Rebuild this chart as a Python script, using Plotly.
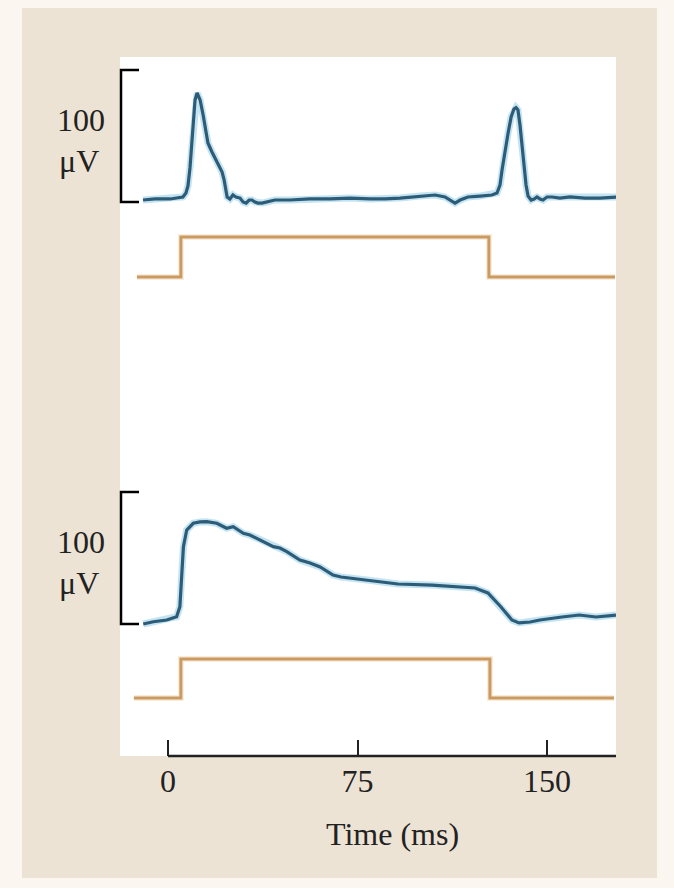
import plotly.graph_objects as go

# ---------------- data ----------------
# Top record: two brief spikes (onset and offset response), time in ms, amplitude in microvolts
TOP_T = [-9.9, -5.1, 0.8, 4.7, 5.9, 7.1, 7.9, 8.7, 9.5, 10.3, 10.7, 11.5, 12.7, 13.9, 15.0,
         15.8, 17.4, 19.0, 20.2, 21.4, 22.2, 23.0, 23.4, 24.5, 25.7, 26.9, 28.5, 29.7, 30.9,
         32.1, 33.2, 34.4, 35.6, 37.2, 39.2, 42.3, 48.3, 56.2, 64.1, 72.0, 79.9, 85.9, 91.8,
         99.7, 105.7, 109.6, 112.0, 113.6, 115.6, 118.7, 123.5, 128.2, 130.2, 131.4, 132.2,
         133.4, 134.6, 135.8, 136.9, 137.7, 138.5, 139.3, 140.1, 140.9, 141.7, 142.5, 143.7,
         144.9, 146.0, 147.2, 148.4, 150.0, 152.0, 155.1, 159.1, 165.0, 171.0, 177.7]
TOP_UV = [1.5, 2.3, 2.3, 3.0, 3.8, 6.8, 12.1, 25.8, 44.7, 65.9, 77.3, 82.6, 77.3, 65.9, 53.0,
          44.7, 37.9, 31.8, 27.3, 22.7, 16.7, 9.1, 3.8, 2.3, 5.3, 3.8, 3.0, 0.0, -0.8,
          1.5, 1.5, 0.0, -0.8, -0.8, 0.0, 1.5, 1.5, 2.3, 2.3, 3.0, 2.3, 2.3, 3.0,
          4.5, 5.3, 3.8, 0.8, -0.8, 1.5, 3.8, 4.5, 5.3, 6.8, 12.9, 24.2,
          39.4, 52.3, 64.4, 70.5, 71.5, 69.7, 58.3, 43.2, 28.0, 12.9, 4.5, 1.5,
          2.3, 3.8, 2.3, 1.5, 3.8, 3.8, 3.0, 3.8, 3.0, 3.0, 3.8]

# Bottom record: sustained response, time in ms, amplitude in microvolts
BOT_T = [-9.8, -5.8, -0.5, 3.4, 4.7, 5.4, 6.1, 7.4, 10.0, 12.7, 15.3, 19.3, 23.2, 25.8,
         29.8, 32.4, 35.1, 38.4, 41.7, 44.3, 47.0, 52.2, 56.2, 60.2, 65.3, 68.5, 78.8,
         91.0, 104.5, 114.8, 121.5, 126.6, 131.8, 136.1, 138.9, 143.3, 147.2, 155.9,
         162.7, 169.4, 177.3]
BOT_UV = [0.0, 1.7, 3.0, 5.5, 13.1, 33.3, 58.6, 71.2, 76.3, 77.3, 77.5, 76.3, 72.5, 73.7,
          68.7, 67.4, 64.9, 62.1, 58.6, 57.6, 54.8, 48.5, 46.2, 43.2, 37.1, 35.6, 33.3,
          30.3, 29.5, 28.0, 27.3, 23.5, 12.9, 3.0, 0.8, 1.5, 3.0, 5.3,
          6.8, 5.3, 6.8]

# Stimulus (step) timing in ms, level 0 = off, 1 = on
TOP_STIM_T = [-12.3, 5.1, 127.0, 176.9]
BOT_STIM_T = [-13.5, 5.1, 127.4, 176.5]
STIM_LEVEL = [0, 1, 0, 0]

X_TICKS = [0, 75, 150]
X_TICK_TEXT = ["0", "75", "150"]
X_TITLE = "Time (ms)"
SCALE_UV = 100
SCALE_TEXT = ["100", "\u03bcV"]

X_RANGE = [-19.0, 177.3]

# ---------------- styling ----------------
TRACE_COL = "#2d5c78"
HALO_COL = "rgba(150,205,232,0.55)"
STIM_COL = "#c99a62"
STIM_HALO = "rgba(240,200,150,0.35)"
INK = "#222222"
FONT = "Liberation Serif, Times New Roman, serif"
BEIGE = "#ede3d4"
CREAM = "#fbf7f0"

# pixel geometry helpers (plot area: 120..616 x, 57..756 y)
W, H = 674, 888
ML, MR, MT, MB = 120, 58, 57, 132
PH = H - MT - MB


def yrange(zero_px, px_per_unit):
    lo = -(H - MB - zero_px) / px_per_unit
    hi = (zero_px - MT) / px_per_unit
    return [lo, hi]


def px_x(px):
    return (px - ML) / (W - ML - MR)


def px_y(py):
    return (H - MB - py) / PH


fig = go.Figure()

# top response (halo + line)
for col, wd in [(HALO_COL, 7), (TRACE_COL, 3.2)]:
    fig.add_trace(go.Scatter(x=TOP_T, y=TOP_UV, xaxis="x", yaxis="y", mode="lines",
                             line=dict(color=col, width=wd), hoverinfo="skip", showlegend=False))
# bottom response
for col, wd in [(HALO_COL, 7), (TRACE_COL, 3.2)]:
    fig.add_trace(go.Scatter(x=BOT_T, y=BOT_UV, xaxis="x", yaxis="y2", mode="lines",
                             line=dict(color=col, width=wd), hoverinfo="skip", showlegend=False))
# stimulus steps
for col, wd in [(STIM_HALO, 6), (STIM_COL, 3)]:
    fig.add_trace(go.Scatter(x=TOP_STIM_T, y=STIM_LEVEL, xaxis="x", yaxis="y3", mode="lines",
                             line=dict(color=col, width=wd, shape="hv"), hoverinfo="skip",
                             showlegend=False))
    fig.add_trace(go.Scatter(x=BOT_STIM_T, y=STIM_LEVEL, xaxis="x", yaxis="y4", mode="lines",
                             line=dict(color=col, width=wd, shape="hv"), hoverinfo="skip",
                             showlegend=False))

hidden = dict(visible=False, fixedrange=True)
fig.update_layout(
    width=W, height=H, autosize=False,
    margin=dict(l=ML, r=MR, t=MT, b=MB, pad=0),
    paper_bgcolor=CREAM, plot_bgcolor="white",
    showlegend=False,
    xaxis=dict(range=X_RANGE, showgrid=False, zeroline=False, showline=False,
               ticks="inside", ticklen=16, tickwidth=2, tickcolor=INK,
               tickvals=X_TICKS, ticktext=X_TICK_TEXT, fixedrange=True,
               tickfont=dict(family=FONT, size=32, color=INK), ticklabelstandoff=3),
    yaxis=dict(range=yrange(202, 1.32), **hidden),
    yaxis2=dict(range=yrange(624, 1.32), overlaying="y", **hidden),
    yaxis3=dict(range=yrange(277, 40), overlaying="y", **hidden),
    yaxis4=dict(range=yrange(698, 39), overlaying="y", **hidden),
)

shapes = [
    # beige card and white panel behind everything
    dict(type="rect", xref="paper", yref="paper", x0=px_x(22), x1=px_x(657),
         y0=px_y(878), y1=px_y(8), fillcolor=BEIGE, line=dict(width=0), layer="below"),
    dict(type="rect", xref="paper", yref="paper", x0=0, x1=1, y0=0, y1=1,
         fillcolor="white", line=dict(width=0), layer="below"),
    # time axis line starting at t = 0
    dict(type="line", xref="x", yref="paper", x0=X_TICKS[0], x1=X_RANGE[1], y0=0, y1=0,
         line=dict(color=INK, width=2.5)),
]
# scale bars (100 uV brackets)
for yref in ["y", "y2"]:
    xa, xb = px_x(121), px_x(139)
    shapes.append(dict(type="path", xref="paper", yref=yref,
                       path=f"M {xb},0 L {xa},0 L {xa},{SCALE_UV} L {xb},{SCALE_UV}",
                       line=dict(color="black", width=2.5)))
fig.update_layout(shapes=shapes)

annotations = []
for yref in ["y", "y2"]:
    annotations.append(dict(text=SCALE_TEXT[0], xref="paper", yref=yref, x=px_x(81),
                            y=SCALE_UV * 0.62, xanchor="center", yanchor="middle",
                            showarrow=False, font=dict(family=FONT, size=32, color=INK)))
    annotations.append(dict(text=SCALE_TEXT[1], xref="paper", yref=yref, x=px_x(79),
                            y=SCALE_UV * 0.31, xanchor="center", yanchor="middle",
                            showarrow=False, font=dict(family=FONT, size=32, color=INK)))
annotations.append(dict(text=X_TITLE, xref="x", yref="paper",
                        x=(X_TICKS[0] + X_RANGE[1]) / 2, y=px_y(834),
                        xanchor="center", yanchor="middle", showarrow=False,
                        font=dict(family=FONT, size=32, color=INK)))
fig.update_layout(annotations=annotations)

fig.write_html("out.html", config={"displayModeBar": False},
               post_script="document.body.style.margin='0';")
